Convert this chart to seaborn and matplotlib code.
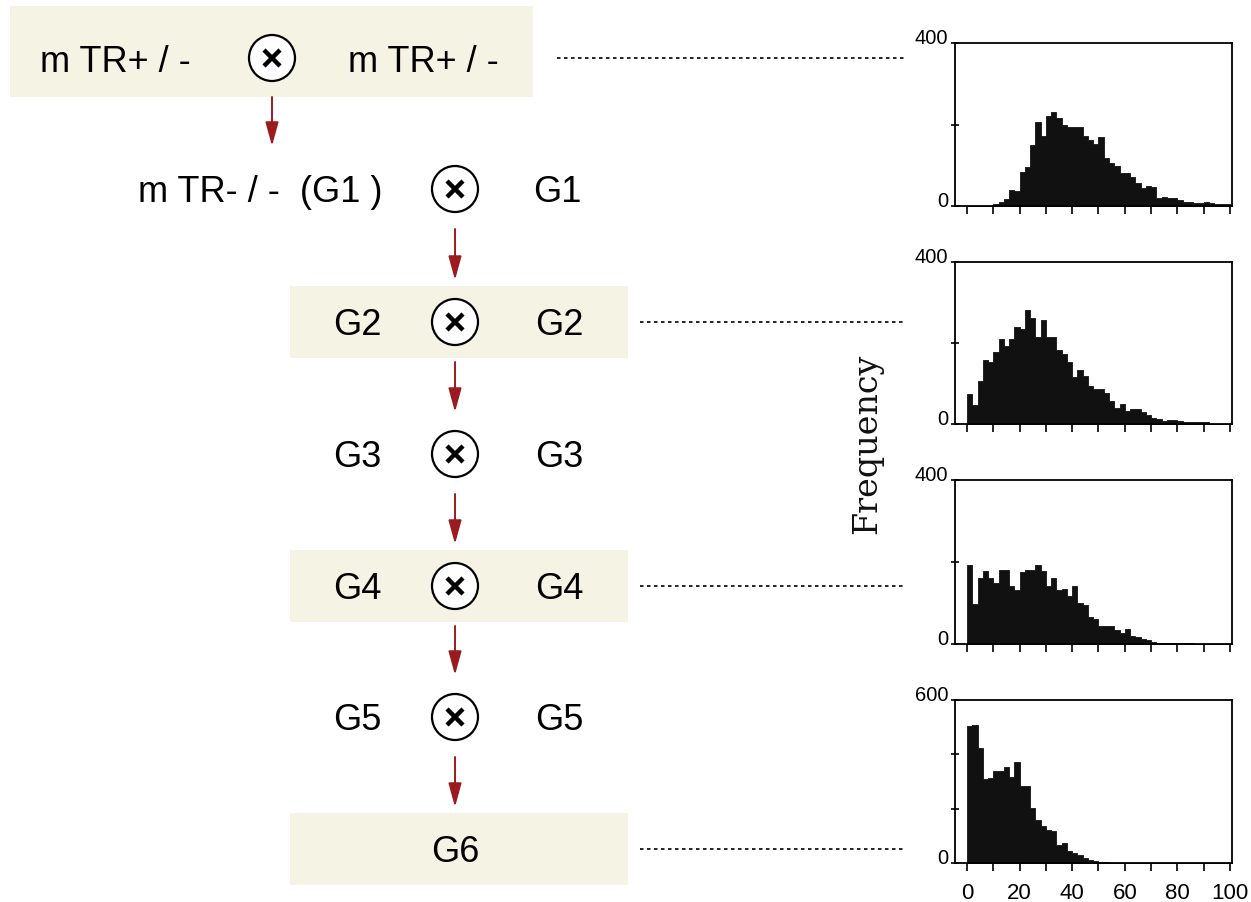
import numpy as np
import pandas as pd
import matplotlib
matplotlib.use("Agg")
import matplotlib.pyplot as plt
from matplotlib.patches import Rectangle, Circle
import seaborn as sns

# histogram data: counts per 2-unit bin, 0..100
bin_mids = np.arange(1, 100, 2)

g1_counts = [0, 0, 0, 0, 0, 4, 9, 18, 40, 38,
             84, 95, 150, 205, 172, 221, 230, 215, 200, 195,
             193, 193, 172, 161, 152, 170, 119, 105, 98, 80,
             82, 70, 56, 45, 48, 46, 20, 22, 20, 20,
             15, 10, 10, 7, 8, 10, 7, 4, 4, 4]
g2_counts = [74, 48, 105, 158, 154, 179, 211, 193, 211, 239,
             234, 281, 262, 216, 256, 216, 216, 183, 173, 154,
             116, 134, 118, 95, 87, 87, 77, 58, 39, 50,
             31, 36, 36, 30, 21, 16, 13, 7, 11, 11,
             7, 6, 6, 6, 6, 5, 1, 1, 1, 1]
g4_counts = [192, 97, 161, 178, 162, 149, 180, 180, 142, 131,
             176, 180, 180, 192, 179, 142, 162, 131, 134, 116,
             142, 101, 96, 65, 61, 45, 45, 45, 35, 28,
             37, 19, 16, 12, 10, 4, 2, 2, 2, 2,
             2, 2, 2, 1, 1, 1, 1, 1, 1, 1]
g6_counts = [505, 508, 423, 309, 312, 340, 340, 352, 315, 370,
             285, 282, 202, 160, 136, 120, 117, 65, 75, 46,
             38, 28, 18, 10, 6, 2, 2, 1, 1, 1,
             1, 1, 1, 1, 1, 1, 1, 1, 1, 1,
             1, 1, 1, 1, 1, 1, 1, 1, 1, 1]

hist_sets = [g1_counts, g2_counts, g4_counts, g6_counts]
hist_ymax = [400, 400, 400, 600]

# diagram text
left_labels = ["m TR+ / -", "m TR- / -  (G1 )", "G2", "G3", "G4", "G5"]
right_labels = ["m TR+ / -", "G1", "G2", "G3", "G4", "G5"]
last_label = "G6"

sns.set_theme(style="white")
plt.rcParams['font.family'] = ['Liberation Sans', 'DejaVu Sans']
plt.rcParams['text.color'] = 'black'

box_color = '#F5F3E3'
arrow_color = '#9B1B1E'

fig = plt.figure(figsize=(12.51, 9.03), dpi=100)
fig.patch.set_facecolor('white')

# diagram canvas in pixel coordinates
ax = fig.add_axes([0, 0, 1, 1])
ax.set_xlim(0, 1251)
ax.set_ylim(903, 0)
ax.axis('off')

row_y = [59, 190, 323, 455, 587, 718, 850]
fs = 26
cap_half = 12.5

# shaded boxes
ax.add_patch(Rectangle((10, 7), 523, 91, color=box_color, lw=0))
for y in [row_y[2], row_y[4], row_y[6]]:
    ax.add_patch(Rectangle((290, y - 36), 338, 72, color=box_color, lw=0))


def cross(cx, cy):
    ax.add_patch(Circle((cx, cy), 23, facecolor='white', edgecolor='black', lw=1.6, zorder=3))
    d = 8
    ax.plot([cx - d, cx + d], [cy - d, cy + d], color='black', lw=3.2, zorder=4, solid_capstyle='butt')
    ax.plot([cx - d, cx + d], [cy + d, cy - d], color='black', lw=3.2, zorder=4, solid_capstyle='butt')


def arrow(x, y0, y1):
    ax.annotate('', xy=(x, y1), xytext=(x, y0),
                arrowprops=dict(arrowstyle='-|>,head_length=1.45,head_width=0.4',
                                color=arrow_color, lw=1.4, mutation_scale=10,
                                shrinkA=0, shrinkB=0))


# row 1
ax.text(40, row_y[0] + cap_half, left_labels[0], fontsize=fs, va='baseline', ha='left', color='black')
cross(272, row_y[0])
ax.text(348, row_y[0] + cap_half, right_labels[0], fontsize=fs, va='baseline', ha='left', color='black')
arrow(272, 98, 147)

# row 2
ax.text(138, row_y[1] + cap_half, left_labels[1], fontsize=fs, va='baseline', ha='left', color='black')
cross(455, row_y[1])
ax.text(533, row_y[1] + cap_half, right_labels[1], fontsize=fs, va='baseline', ha='left', color='black')

for i in range(2, 6):
    y = row_y[i]
    ax.text(333, y + cap_half, left_labels[i], fontsize=fs, va='baseline', ha='left', color='black')
    cross(455, y)
    ax.text(535, y + cap_half, right_labels[i], fontsize=fs, va='baseline', ha='left', color='black')

for i in range(1, 6):
    arrow(455, row_y[i] + 40, row_y[i + 1] - 42)

ax.text(455, row_y[6] + cap_half, last_label, fontsize=fs, va='baseline', ha='center', color='black')

# dotted guide lines
dots = dict(color='black', lw=1.2, linestyle=(0, (2.1, 2.1)))
ax.plot([557, 905], [row_y[0], row_y[0]], **dots)
for y in [row_y[2], row_y[4], row_y[6]]:
    ax.plot([640, 905], [y, y], **dots)

# histograms
hist_top_bottom = [(44, 207), (263, 425), (481, 645), (701, 864)]
left_px, right_px = 955, 1232
for k, (counts, ymax, (top, bot)) in enumerate(zip(hist_sets, hist_ymax, hist_top_bottom)):
    hx = fig.add_axes([left_px / 1251, 1 - bot / 903, (right_px - left_px) / 1251, (bot - top) / 903])
    df = pd.DataFrame({'length': bin_mids, 'n': counts})
    sns.histplot(data=df, x='length', weights='n', binwidth=2, binrange=(0, 100),
                 element='step', fill=True, color='#111111', alpha=1, linewidth=0.6, ax=hx)
    hx.set_xlim(-4.6, 100.8)
    hx.set_ylim(0, ymax)
    hx.set_xlabel('')
    hx.set_ylabel('')
    hx.set_facecolor('white')
    for s in hx.spines.values():
        s.set_visible(True)
        s.set_color('black')
        s.set_linewidth(1.3)
    yt = list(range(0, ymax + 1, 200))
    hx.set_yticks(yt)
    hx.set_yticklabels(['0'] + [''] * (len(yt) - 2) + [str(ymax)])
    hx.set_xticks(np.arange(0, 101, 10))
    if k == 3:
        hx.set_xticklabels([str(v) if v % 20 == 0 else '' for v in range(0, 101, 10)])
    else:
        hx.set_xticklabels([])
    hx.tick_params(axis='x', direction='out', length=5.5, width=1.2, color='black',
                   bottom=True, labelsize=16, pad=8, labelcolor='black')
    hx.tick_params(axis='y', direction='inout', length=6, width=1.2, color='black',
                   left=True, labelsize=14.5, pad=2, labelcolor='black')
    for lbl in hx.get_yticklabels():
        lbl.set_va('baseline')

fig.text(867 / 1251, 1 - 444 / 903, 'Frequency', rotation=90, ha='center', va='center',
         fontsize=24, family='DejaVu Serif', color='#111111')

fig.savefig('out.png', dpi=100, facecolor='white')
